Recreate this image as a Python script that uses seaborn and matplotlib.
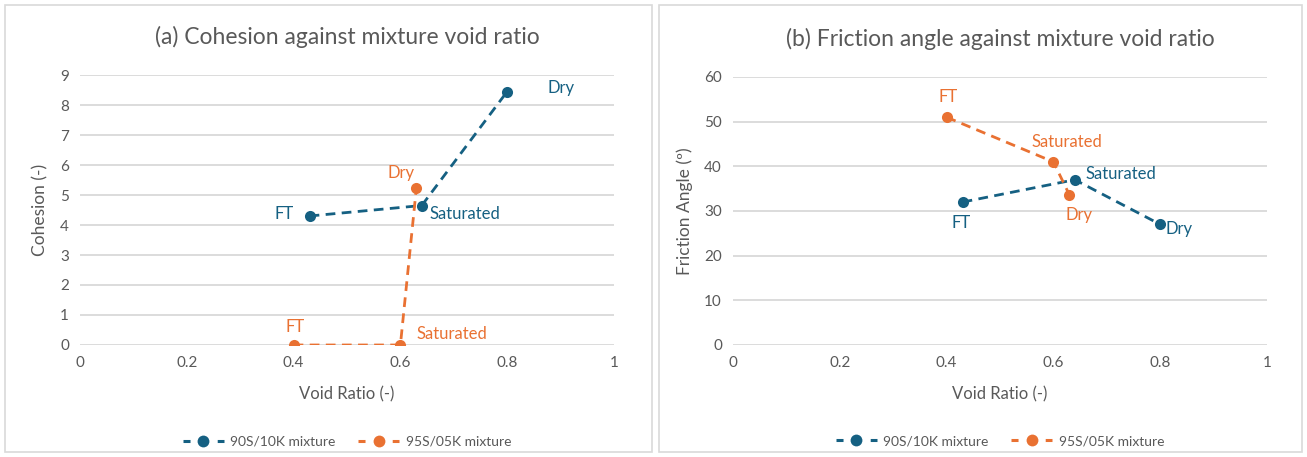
import matplotlib
matplotlib.use("Agg")
import matplotlib.pyplot as plt
import seaborn as sns
import pandas as pd
from matplotlib.patches import Rectangle
from matplotlib.lines import Line2D

sns.set_theme(style="white")
plt.rcParams['font.family'] = ['Lato', 'DejaVu Sans']

conditions = ["FT", "Saturated", "Dry"]
series_names = ["90S/10K mixture", "95S/05K mixture"]
void_90 = [0.43, 0.64, 0.80]
void_95 = [0.40, 0.60, 0.63]
cohesion_90 = [4.3, 4.65, 8.45]
cohesion_95 = [0.0, 0.0, 5.25]
friction_90 = [32.0, 37.0, 27.0]
friction_95 = [51.0, 41.0, 33.6]

BLUE = "#156082"
ORANGE = "#E97132"
GRID = "#D9D9D9"
TXT = "#595959"

rows = []
for i, c in enumerate(conditions):
    rows.append(dict(series=series_names[0], cond=c, order=i, void=void_90[i], coh=cohesion_90[i], fric=friction_90[i]))
    rows.append(dict(series=series_names[1], cond=c, order=i, void=void_95[i], coh=cohesion_95[i], fric=friction_95[i]))
df = pd.DataFrame(rows)

fig = plt.figure(figsize=(13.07, 4.57), dpi=100)
W, H = 1307, 457
# panel borders
for x0, x1 in [(5, 652), (659, 1302)]:
    fig.patches.append(Rectangle((x0 / W, 5 / H), (x1 - x0) / W, (452 - 5) / H,
                                 transform=fig.transFigure, fill=False,
                                 edgecolor="#D9D9D9", linewidth=1.2))

def px_ax(x0, x1, ytop, ybot):
    return fig.add_axes([x0 / W, 1 - ybot / H, (x1 - x0) / W, (ybot - ytop) / H])

ax1 = px_ax(80, 614, 75, 345)
ax2 = px_ax(733, 1267, 77, 345)

palette = {series_names[0]: BLUE, series_names[1]: ORANGE}

def draw(ax, ycol, ylim, yticks, ylabel, title):
    for s in series_names:
        d = df[df.series == s].sort_values("order")
        sns.lineplot(data=d, x="void", y=ycol, ax=ax, sort=False, color=palette[s],
                     linestyle=(0, (3.5, 2.3)), linewidth=2, marker="o", markersize=8,
                     markeredgewidth=0, legend=False, estimator=None)
    ax.set_xlim(0, 1)
    ax.set_ylim(*ylim)
    ax.set_xticks([0, 0.2, 0.4, 0.6, 0.8, 1])
    ax.set_xticklabels(["0", "0.2", "0.4", "0.6", "0.8", "1"])
    ax.set_yticks(yticks)
    ax.yaxis.grid(True, color=GRID, linewidth=1.3)
    ax.xaxis.grid(False)
    for sp in ax.spines.values():
        sp.set_visible(False)
    ax.tick_params(colors=TXT, labelsize=11, length=0, pad=8)
    ax.set_xlabel("Void Ratio (-)", color=TXT, fontsize=12, labelpad=12)
    ax.set_ylabel(ylabel, color=TXT, fontsize=12.5, labelpad=8)
    ax.set_title(title, color=TXT, fontsize=16.5, pad=22)
    ax.set_axisbelow(True)
    handles = [Line2D([0], [0], color=palette[s], linestyle=(0, (2.3, 8.9)), linewidth=2.2,
                      marker="o", markersize=8.5, markeredgewidth=0) for s in series_names]
    ax.legend(handles, series_names, loc="upper center", bbox_to_anchor=(0.5, -0.29),
              ncol=2, frameon=False, fontsize=10, labelcolor=TXT, handlelength=2.95,
              handletextpad=0.5, columnspacing=1.6)

draw(ax1, "coh", (0, 9), range(0, 10), "Cohesion (-)", "(a) Cohesion against mixture void ratio")
draw(ax2, "fric", (0, 60), range(0, 70, 10), "Friction Angle (º)", "(b) Friction angle against mixture void ratio")

fs = 12
# panel (a) labels
ax1.text(0.876, 8.57, "Dry", color=BLUE, fontsize=fs, ha="left", va="center")
ax1.text(0.40, 4.37, "FT", color=BLUE, fontsize=fs, ha="right", va="center")
ax1.text(0.655, 4.37, "Saturated", color=BLUE, fontsize=fs, ha="left", va="center")
ax1.text(0.601, 5.73, "Dry", color=ORANGE, fontsize=fs, ha="center", va="center")
ax1.text(0.403, 0.6, "FT", color=ORANGE, fontsize=fs, ha="center", va="center")
ax1.text(0.63, 0.37, "Saturated", color=ORANGE, fontsize=fs, ha="left", va="center")
# panel (b) labels
ax2.text(0.403, 55.5, "FT", color=ORANGE, fontsize=fs, ha="center", va="center")
ax2.text(0.625, 45.4, "Saturated", color=ORANGE, fontsize=fs, ha="center", va="center")
ax2.text(0.648, 29.1, "Dry", color=ORANGE, fontsize=fs, ha="center", va="center")
ax2.text(0.427, 27.3, "FT", color=BLUE, fontsize=fs, ha="center", va="center")
ax2.text(0.66, 38.3, "Saturated", color=BLUE, fontsize=fs, ha="left", va="center")
ax2.text(0.81, 26.0, "Dry", color=BLUE, fontsize=fs, ha="left", va="center")

fig.savefig("out.png", dpi=100)
